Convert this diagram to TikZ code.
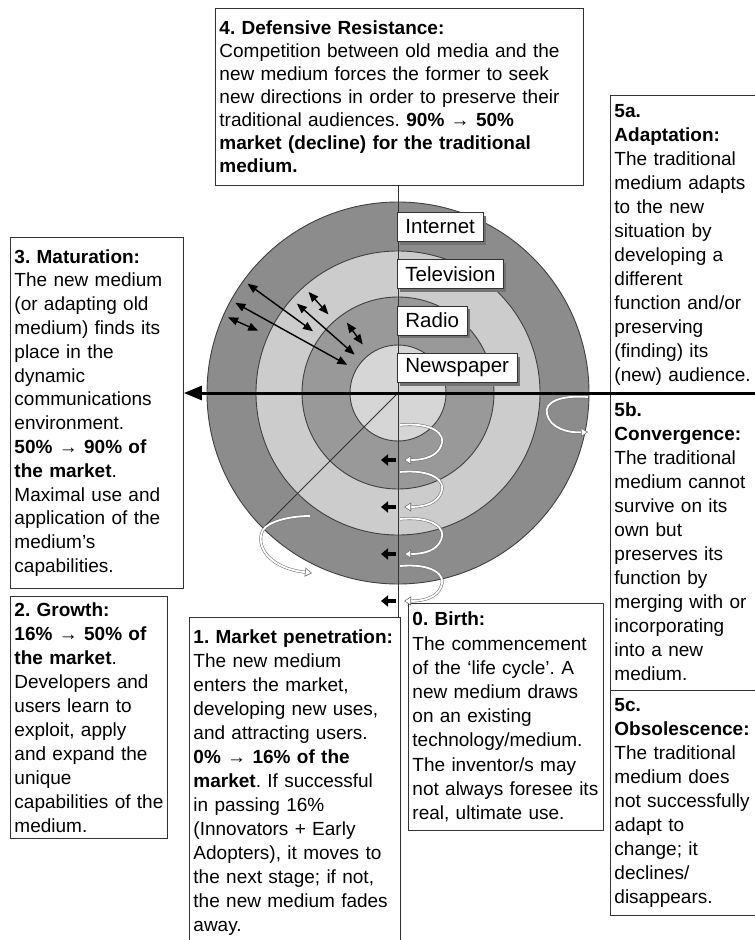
\documentclass[tikz,border=0pt]{standalone}
\usepackage{fontspec}
\setmainfont{Liberation Sans}
\usetikzlibrary{arrows.meta, calc, shadows}
\definecolor{ringdark}{gray}{0.55}
\definecolor{ringmid}{gray}{0.60}
\definecolor{ringlight}{gray}{0.80}
\definecolor{ringcore}{gray}{0.84}
\tikzset{
  stagebox/.style={draw=black!80, line width=0.9pt, fill=white, anchor=north west, align=left,
    inner xsep=4pt, inner ysep=5pt, font=\fontsize{19}{24}\selectfont},
  medialabel/.style={draw=black!80, line width=0.8pt, fill=white, anchor=west, inner xsep=8pt,
    minimum height=29pt, font=\fontsize{20.5}{24}\selectfont,
    drop shadow={shadow xshift=3pt, shadow yshift=-3pt, fill=black!55, opacity=1}},
  axisline/.style={draw=black!80, line width=1pt},
  mainaxis/.style={line width=3pt, arrows={-Triangle[length=18pt,width=14pt]}},
  interplay/.style={line width=1.4pt, arrows={Triangle[length=10pt,width=8pt]-Triangle[length=10pt,width=8pt]}},
  coil/.style={draw=black!55, double=white, double distance=1.8pt, line width=0.55pt,
    arrows={-Triangle[length=7pt,width=9pt,fill=white,line width=0.6pt]}},
  pushback/.style={line width=4pt, arrows={-Triangle[length=7pt,width=11pt]}}
}
\def\bl{\bfseries}
\frenchspacing

\begin{document}
\begin{tikzpicture}[x=1pt, y=-1pt]
\useasboundingbox (0,0) rectangle (755,940);
\clip (0,0) rectangle (755,940);
\fill[white] (0,0) rectangle (755,940);

\coordinate (c) at (398,393);

% rings
\fill[ringdark] (c) circle[radius=191];
\fill[ringlight] (c) circle[radius=142];
\fill[ringmid] (c) circle[radius=96];
\fill[ringcore] (c) circle[radius=48];
\foreach \r in {191,142,96,48}
  \draw[black!75, line width=0.9pt] (c) circle[radius=\r];
\draw[axisline] (c) -- ($(c)+(-225:191)$);

% interplay between the media
\foreach \ang/\rin/\rout in {156/153/186, 144/105/186, 151/58/186, 131.5/105/135, 138.5/58/135, 126/60/87}
  \draw[interplay] ($(c)+(-\ang:\rout)$) -- ($(c)+(-\ang:\rin)$);

% stages
\node[stagebox, text width=360pt, minimum height=177pt, font=\fontsize{19}{23}\selectfont] (resistance) at (215,8)
  {{\bl 4. Defensive Resistance:}\\
   Competition between old media and the\\
   new medium forces the former to seek\\
   new directions in order to preserve their\\
   traditional audiences. {\bl 90\% → 50\%}\\
   {\bl market (decline) for the traditional}\\
   {\bl medium.}};
\node[stagebox, text width=165pt, minimum height=351pt, font=\fontsize{19}{23.8}\selectfont] (maturation) at (10,237)
  {{\bl 3. Maturation:}\\
   The new medium\\
   (or adapting old\\
   medium) finds its\\
   place in the\\
   dynamic\\
   communications\\
   environment.\\
   {\bl 50\% → 90\% of}\\
   {\bl the market}.\\
   Maximal use and\\
   application of the\\
   medium's\\
   capabilities.};
\node[stagebox, text width=149pt, minimum height=242pt] (growth) at (10,596)
  {{\bl 2. Growth:}\\
   {\bl 16\% → 50\% of}\\
   {\bl the market}.\\
   Developers and\\
   users learn to\\
   exploit, apply\\
   and expand the\\
   unique\\
   capabilities of the\\
   medium.};
\node[stagebox, text width=203pt, minimum height=330pt] (penetration) at (189,617)
  {{\bl 1. Market penetration:}\\
   The new medium\\
   enters the market,\\
   developing new uses,\\
   and attracting users.\\
   {\bl 0\% → 16\% of the}\\
   {\bl market}. If successful\\
   in passing 16\%\\
   (Innovators + Early\\
   Adopters), it moves to\\
   the next stage; if not,\\
   the new medium fades\\
   away.};
\node[stagebox, text width=187pt, minimum height=227pt, font=\fontsize{19}{24.2}\selectfont] (birth) at (408,603)
  {{\bl 0. Birth:}\\
   The commencement\\
   of the `life cycle'. A\\
   new medium draws\\
   on an existing\\
   technology/medium.\\
   The inventor/s may\\
   not always foresee its\\
   real, ultimate use.};
\node[stagebox, text width=147pt, minimum height=298pt] (adaptation) at (610,95)
  {{\bl 5a.}\\
   {\bl Adaptation:}\\
   The traditional\\
   medium adapts\\
   to the new\\
   situation by\\
   developing a\\
   different\\
   function and/or\\
   preserving\\
   (finding) its\\
   (new) audience.};
\node[stagebox, text width=147pt, minimum height=297pt] (convergence) at (610,393)
  {{\bl 5b.}\\
   {\bl Convergence:}\\
   The traditional\\
   medium cannot\\
   survive on its\\
   own but\\
   preserves its\\
   function by\\
   merging with or\\
   incorporating\\
   into a new\\
   medium.};
\node[stagebox, text width=147pt, minimum height=225pt] (obsolescence) at (610,690)
  {{\bl 5c.}\\
   {\bl Obsolescence:}\\
   The traditional\\
   medium does\\
   not successfully\\
   adapt to\\
   change; it\\
   declines/\\
   disappears.};

\draw[axisline] (c |- resistance.south) -- (c |- penetration.north);

% coils down the axis
\foreach \yt in {425,472,519,566} {
  \draw[coil] (400,\yt) .. controls (432,\yt-3) and (447,\yt+9) .. (441,\yt+21)
    .. controls (437,\yt+31) and (425,\yt+35) .. (404,\yt+35);
  \draw[pushback] (396,\yt+35) -- (381,\yt+35);
}
\draw[coil] (588,397) .. controls (560,395) and (544,402) .. (547,414)
  .. controls (550,428) and (568,433) .. (588,432);
\draw[coil] (310,516) .. controls (288,516) and (268,522) .. (263,530)
  .. controls (255,545) and (268,568) .. (312,573);

% media
\node[medialabel] (internet) at (397,227) {Internet};
\node[medialabel] (television) at (397,274) {Television};
\node[medialabel] (radio) at (397,320.5) {Radio};
\node[medialabel] (newspaper) at (397,368) {Newspaper};

\draw[mainaxis] (c -| adaptation.east) -- (c -| maturation.east);
\end{tikzpicture}
\end{document}
